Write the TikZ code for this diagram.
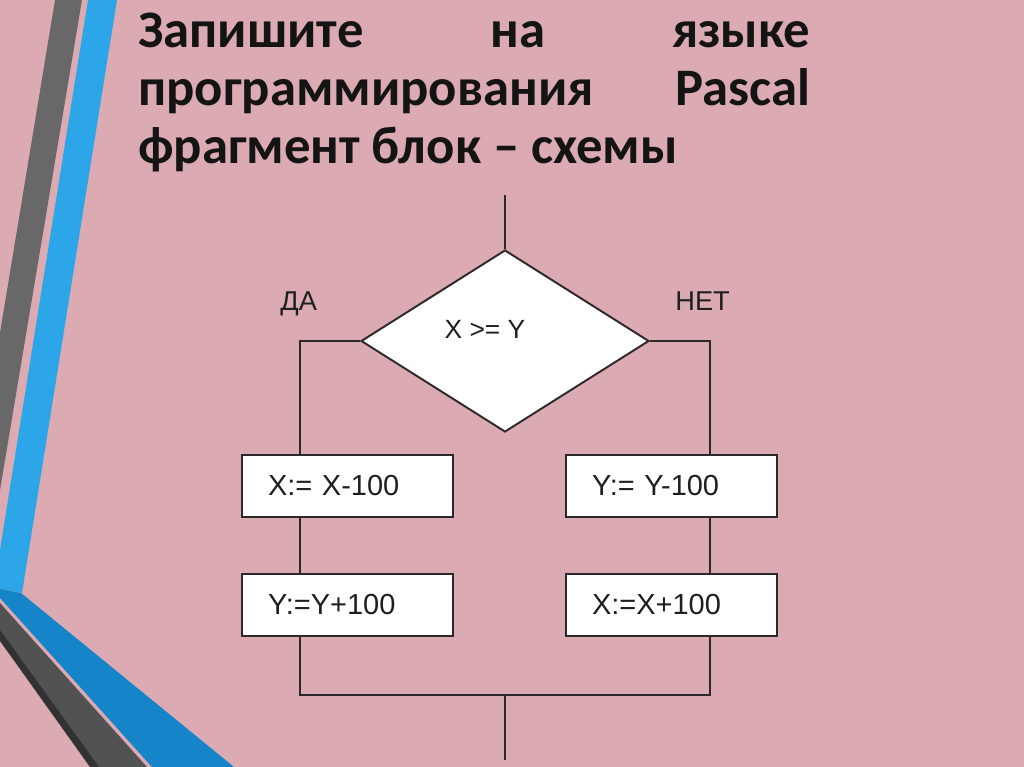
\documentclass[tikz,border=0pt]{standalone}
\usepackage{fontspec}
\usepackage{xcolor}
\usetikzlibrary{shapes.geometric}

\newfontfamily\headfont{Carlito}
\newfontfamily\chartfont{Liberation Sans}

\definecolor{bgpink}{RGB}{219,170,178}
\definecolor{stripegrey}{RGB}{104,104,104}
\definecolor{stripeblue}{RGB}{44,166,232}
\definecolor{bandblue}{RGB}{22,132,200}
\definecolor{bandgrey}{RGB}{82,82,82}
\definecolor{bandshade}{RGB}{50,50,50}
\definecolor{flowline}{RGB}{45,40,42}

\tikzset{
  headline/.style={anchor=base west, inner sep=0pt, text width=13.44cm, align=flush left,
    font=\headfont\bfseries\fontsize{30}{36}\selectfont, text=black!92},
  decision/.style={diamond, draw=flowline, fill=white, line width=1.1pt,
    minimum width=5.76cm, minimum height=3.64cm, inner sep=0pt},
  action/.style={rectangle, draw=flowline, fill=white, line width=1.1pt,
    text width=3.18cm, inner xsep=0.52cm, inner ysep=0pt, minimum height=1.24cm,
    align=left, font=\chartfont\fontsize{16.5}{18}\selectfont, text=black!88},
  branch/.style={anchor=base west, inner sep=0pt,
    font=\chartfont\fontsize{15.5}{17}\selectfont, text=black!88},
  cond/.style={inner sep=0pt, font=\chartfont\fontsize{15}{17}\selectfont, text=black!88},
  flow/.style={draw=flowline, line width=1.1pt}
}

\begin{document}
\begin{tikzpicture}[x=0.02cm, y=-0.02cm]
			% background and side stripes
			\fill[bgpink] (0,0) rectangle (1024,767);
			\fill[stripegrey] (55,0) -- (82,0) -- (0,490) -- (0,333) -- cycle;
			\fill[stripeblue] (88,0) -- (117,0) -- (22,593) -- (0,589) -- (0,550) -- cycle;
			\fill[bandblue] (0,589) -- (21,593) -- (234,767) -- (152,767) -- (0,598) -- cycle;
			\fill[bandgrey] (0,603) -- (147,767) -- (96,767) -- (0,636) -- cycle;
			\fill[bandshade] (0,630) -- (99,767) -- (90,767) -- (0,641) -- cycle;
			
			% title
			\node[headline] (t1) at (138,48) {Запишите\hfill на\hfill языке};
			\node[headline] (t2) at (138,106) {программирования\hfill Pascal};
			\node[headline] (t3) at (138,163) {фрагмент блок – схемы};
			
			% flowchart
			\node[decision] (cmp) at (505,341) {};
			\node[cond] (cmptext) at (485,329) {X >= Y};
			\node[branch] (yes) at (280,310) {ДА};
			\node[branch] (no) at (675,310) {НЕТ};
			
			\node[action] (xdec) at (347.5,486) {X:= X-100};
			\node[action] (yinc) at (347.5,605) {Y:=Y+100};
			\node[action] (ydec) at (671.5,486) {Y:= Y-100};
			\node[action] (xinc) at (671.5,605) {X:=X+100};
			
			\coordinate (in) at (505,195);
			\coordinate (out) at (505,760);
			\coordinate (yesturn) at (300,341);
			\coordinate (noturn) at (710,341);
			\coordinate (merge) at (300,695);
			
			\draw[flow] (in) -- (cmp.north);
			\draw[flow] (cmp.west) -- (yesturn) -- (yesturn |- xdec.north);
			\draw[flow] (xdec.south -| yesturn) -- (yesturn |- yinc.north);
			\draw[flow] (cmp.east) -- (noturn) -- (noturn |- ydec.north);
			\draw[flow] (ydec.south -| noturn) -- (noturn |- xinc.north);
			\draw[flow] (yinc.south -| yesturn) -- (merge) -- (merge -| noturn) -- (noturn |- xinc.south);
			\draw[flow] (merge -| out) -- (out);
\end{tikzpicture}
\end{document}
